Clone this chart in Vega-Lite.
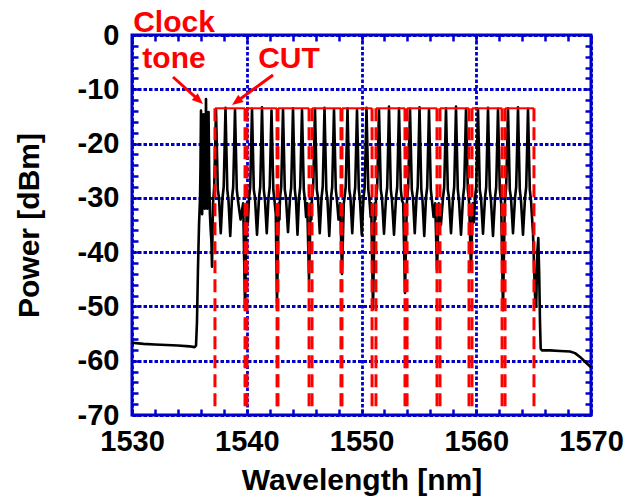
{
  "$schema": "https://vega.github.io/schema/vega-lite/v6.json",
  "width": 459,
  "height": 380,
  "autosize": {"type": "none"},
  "padding": {"left": 132, "top": 35, "right": 51, "bottom": 82},
  "background": "white",
  "config": {
    "view": {"stroke": "#0000cc", "strokeWidth": 3},
    "font": "Liberation Sans",
    "axis": {
      "labelFont": "Liberation Sans", "labelFontWeight": "bold", "labelFontSize": 29, "labelColor": "black",
      "titleFont": "Liberation Sans", "titleFontWeight": "bold", "titleFontSize": 30, "titleColor": "black",
      "tickColor": "#0000cc", "tickWidth": 2.5, "tickSize": -6,
      "domain": false,
      "gridColor": "#0000cc", "gridWidth": 2.8, "gridDash": [3.5, 2],
      "labelOverlap": false, "labelFlush": false
    }
  },
  "datasets": {
    "spec": [
      {"wl":1530.0,"p":-56.7},{"wl":1531.0,"p":-56.9},{"wl":1532.0,"p":-57.0},{"wl":1533.0,"p":-57.1},{"wl":1534.0,"p":-57.2},{"wl":1535.0,"p":-57.35},{"wl":1535.45,"p":-57.5},{"wl":1535.58,"p":-57.2},{"wl":1535.66,"p":-53},{"wl":1535.75,"p":-43},{"wl":1535.84,"p":-35},{"wl":1535.93,"p":-30},
      {"wl":1535.97,"p":-24},{"wl":1536.013,"p":-13.9},{"wl":1536.06,"p":-25},{"wl":1536.11,"p":-33},{"wl":1536.17,"p":-27},{"wl":1536.23,"p":-14.6},{"wl":1536.29,"p":-26},{"wl":1536.34,"p":-32},{"wl":1536.40,"p":-24},{"wl":1536.449,"p":-11.8},{"wl":1536.50,"p":-24},{"wl":1536.56,"p":-32},{"wl":1536.62,"p":-26},{"wl":1536.67,"p":-14.2},{"wl":1536.73,"p":-26},{"wl":1536.79,"p":-33},{"wl":1536.86,"p":-36},{"wl":1536.92,"p":-38},{"wl":1536.972,"p":-42.7},
      {"wl":1537.059,"p":-31},{"wl":1537.163,"p":-28},{"wl":1537.242,"p":-21},{"wl":1537.320,"p":-13.8},{"wl":1537.398,"p":-21},{"wl":1537.477,"p":-28.5},{"wl":1537.581,"p":-30},{"wl":1537.734,"p":-36.5},{"wl":1537.887,"p":-30},{"wl":1537.991,"p":-28},{"wl":1538.070,"p":-21},{"wl":1538.148,"p":-13.4},{"wl":1538.226,"p":-21},{"wl":1538.305,"p":-28.5},{"wl":1538.409,"p":-30.5},{"wl":1538.562,"p":-37},{"wl":1538.715,"p":-30},{"wl":1538.819,"p":-28},{"wl":1538.898,"p":-21},{"wl":1538.976,"p":-13.7},{"wl":1539.054,"p":-21},{"wl":1539.133,"p":-28.5},{"wl":1539.237,"p":-30.5},{"wl":1539.46,"p":-34},{"wl":1539.690,"p":-31},{"wl":1539.847,"p":-50},
      {"wl":1540.004,"p":-31},{"wl":1540.10,"p":-34.5},{"wl":1540.197,"p":-30},{"wl":1540.301,"p":-28},{"wl":1540.380,"p":-21},{"wl":1540.458,"p":-13.6},{"wl":1540.536,"p":-21},{"wl":1540.615,"p":-28.5},{"wl":1540.719,"p":-30},{"wl":1540.894,"p":-36.8},{"wl":1541.068,"p":-30},{"wl":1541.172,"p":-28},{"wl":1541.251,"p":-21},{"wl":1541.329,"p":-13.3},{"wl":1541.407,"p":-21},{"wl":1541.486,"p":-28.5},{"wl":1541.590,"p":-30.5},{"wl":1541.743,"p":-36.5},{"wl":1541.896,"p":-30},{"wl":1542.000,"p":-28},{"wl":1542.079,"p":-21},{"wl":1542.157,"p":-13.9},{"wl":1542.235,"p":-21},{"wl":1542.314,"p":-28.5},{"wl":1542.418,"p":-30.5},{"wl":1542.53,"p":-33},{"wl":1542.636,"p":-49.4},
      {"wl":1542.793,"p":-31},{"wl":1542.85,"p":-34},{"wl":1542.898,"p":-30},{"wl":1543.002,"p":-28},{"wl":1543.081,"p":-21},{"wl":1543.159,"p":-13.7},{"wl":1543.237,"p":-21},{"wl":1543.316,"p":-28.5},{"wl":1543.420,"p":-30},{"wl":1543.595,"p":-36.3},{"wl":1543.770,"p":-30},{"wl":1543.874,"p":-28},{"wl":1543.953,"p":-21},{"wl":1544.031,"p":-13.5},{"wl":1544.109,"p":-21},{"wl":1544.188,"p":-28.5},{"wl":1544.292,"p":-30.5},{"wl":1544.423,"p":-36.8},{"wl":1544.554,"p":-30},{"wl":1544.658,"p":-28},{"wl":1544.737,"p":-21},{"wl":1544.815,"p":-13.8},{"wl":1544.893,"p":-21},{"wl":1544.972,"p":-28.5},{"wl":1545.076,"p":-30.5},{"wl":1545.17,"p":-33.5},{"wl":1545.268,"p":-31},{"wl":1545.425,"p":-45},
      {"wl":1545.582,"p":-31},{"wl":1545.63,"p":-34},{"wl":1545.687,"p":-30},{"wl":1545.791,"p":-28},{"wl":1545.870,"p":-21},{"wl":1545.948,"p":-13.6},{"wl":1546.026,"p":-21},{"wl":1546.105,"p":-28.5},{"wl":1546.209,"p":-30},{"wl":1546.362,"p":-36.5},{"wl":1546.515,"p":-30},{"wl":1546.619,"p":-28},{"wl":1546.698,"p":-21},{"wl":1546.776,"p":-13.4},{"wl":1546.854,"p":-21},{"wl":1546.933,"p":-28.5},{"wl":1547.037,"p":-30.5},{"wl":1547.190,"p":-37},{"wl":1547.342,"p":-30},{"wl":1547.446,"p":-28},{"wl":1547.525,"p":-21},{"wl":1547.603,"p":-13.7},{"wl":1547.681,"p":-21},{"wl":1547.760,"p":-28.5},{"wl":1547.864,"p":-30.5},{"wl":1548.00,"p":-34},{"wl":1548.144,"p":-31},{"wl":1548.301,"p":-44},
      {"wl":1548.458,"p":-31},{"wl":1548.519,"p":-30},{"wl":1548.623,"p":-28},{"wl":1548.702,"p":-21},{"wl":1548.780,"p":-13.5},{"wl":1548.858,"p":-21},{"wl":1548.937,"p":-28.5},{"wl":1549.041,"p":-30},{"wl":1549.194,"p":-36.5},{"wl":1549.347,"p":-30},{"wl":1549.451,"p":-28},{"wl":1549.530,"p":-21},{"wl":1549.608,"p":-13.8},{"wl":1549.686,"p":-21},{"wl":1549.765,"p":-28.5},{"wl":1549.869,"p":-30.5},{"wl":1550.022,"p":-36.8},{"wl":1550.175,"p":-30},{"wl":1550.279,"p":-28},{"wl":1550.358,"p":-21},{"wl":1550.436,"p":-13.4},{"wl":1550.514,"p":-21},{"wl":1550.593,"p":-28.5},{"wl":1550.697,"p":-30.5},{"wl":1550.80,"p":-33.5},{"wl":1550.845,"p":-31},{"wl":1551.002,"p":-50.5},
      {"wl":1551.159,"p":-31},{"wl":1551.21,"p":-34},{"wl":1551.264,"p":-30},{"wl":1551.368,"p":-28},{"wl":1551.447,"p":-21},{"wl":1551.525,"p":-13.7},{"wl":1551.603,"p":-21},{"wl":1551.682,"p":-28.5},{"wl":1551.786,"p":-30},{"wl":1551.961,"p":-36.6},{"wl":1552.136,"p":-30},{"wl":1552.240,"p":-28},{"wl":1552.319,"p":-21},{"wl":1552.397,"p":-13.2},{"wl":1552.475,"p":-21},{"wl":1552.554,"p":-28.5},{"wl":1552.658,"p":-30.5},{"wl":1552.833,"p":-36.8},{"wl":1553.007,"p":-30},{"wl":1553.111,"p":-28},{"wl":1553.190,"p":-21},{"wl":1553.268,"p":-13.5},{"wl":1553.346,"p":-21},{"wl":1553.425,"p":-28.5},{"wl":1553.529,"p":-30.5},{"wl":1553.634,"p":-31},{"wl":1553.791,"p":-47.5},
      {"wl":1553.948,"p":-31},{"wl":1554.070,"p":-28},{"wl":1554.149,"p":-21},{"wl":1554.227,"p":-13.6},{"wl":1554.305,"p":-21},{"wl":1554.384,"p":-28.5},{"wl":1554.488,"p":-30},{"wl":1554.641,"p":-36.5},{"wl":1554.794,"p":-30},{"wl":1554.898,"p":-28},{"wl":1554.977,"p":-21},{"wl":1555.055,"p":-13.3},{"wl":1555.133,"p":-21},{"wl":1555.212,"p":-28.5},{"wl":1555.316,"p":-30.5},{"wl":1555.469,"p":-37},{"wl":1555.621,"p":-30},{"wl":1555.725,"p":-28},{"wl":1555.804,"p":-21},{"wl":1555.882,"p":-13.7},{"wl":1555.960,"p":-21},{"wl":1556.039,"p":-28.5},{"wl":1556.143,"p":-30.5},{"wl":1556.28,"p":-33.5},{"wl":1556.423,"p":-31},{"wl":1556.580,"p":-43.3},
      {"wl":1556.737,"p":-31},{"wl":1556.92,"p":-35},{"wl":1557.103,"p":-30},{"wl":1557.207,"p":-28},{"wl":1557.286,"p":-21},{"wl":1557.364,"p":-13.5},{"wl":1557.442,"p":-21},{"wl":1557.521,"p":-28.5},{"wl":1557.625,"p":-30},{"wl":1557.800,"p":-36.5},{"wl":1557.974,"p":-30},{"wl":1558.078,"p":-28},{"wl":1558.157,"p":-21},{"wl":1558.235,"p":-13.2},{"wl":1558.313,"p":-21},{"wl":1558.392,"p":-28.5},{"wl":1558.496,"p":-30.5},{"wl":1558.671,"p":-36.8},{"wl":1558.846,"p":-30},{"wl":1558.950,"p":-28},{"wl":1559.029,"p":-21},{"wl":1559.107,"p":-13.6},{"wl":1559.185,"p":-21},{"wl":1559.264,"p":-28.5},{"wl":1559.385,"p":-31},{"wl":1559.542,"p":-43.3},
      {"wl":1559.699,"p":-31},{"wl":1559.79,"p":-34.5},{"wl":1559.892,"p":-30},{"wl":1559.996,"p":-28},{"wl":1560.075,"p":-21},{"wl":1560.153,"p":-13.7},{"wl":1560.231,"p":-21},{"wl":1560.310,"p":-28.5},{"wl":1560.414,"p":-30},{"wl":1560.589,"p":-36.6},{"wl":1560.763,"p":-30},{"wl":1560.867,"p":-28},{"wl":1560.946,"p":-21},{"wl":1561.024,"p":-13.4},{"wl":1561.102,"p":-21},{"wl":1561.181,"p":-28.5},{"wl":1561.285,"p":-30.5},{"wl":1561.460,"p":-37},{"wl":1561.634,"p":-30},{"wl":1561.738,"p":-28},{"wl":1561.817,"p":-21},{"wl":1561.895,"p":-13.6},{"wl":1561.973,"p":-21},{"wl":1562.052,"p":-28.5},{"wl":1562.174,"p":-31},{"wl":1562.331,"p":-50.7},
      {"wl":1562.488,"p":-31},{"wl":1562.610,"p":-28},{"wl":1562.689,"p":-21},{"wl":1562.767,"p":-13.5},{"wl":1562.845,"p":-21},{"wl":1562.924,"p":-28.5},{"wl":1563.028,"p":-30},{"wl":1563.203,"p":-36.5},{"wl":1563.377,"p":-30},{"wl":1563.481,"p":-28},{"wl":1563.560,"p":-21},{"wl":1563.638,"p":-13.3},{"wl":1563.716,"p":-21},{"wl":1563.795,"p":-28.5},{"wl":1563.899,"p":-30.5},{"wl":1564.074,"p":-36.8},{"wl":1564.249,"p":-30},{"wl":1564.353,"p":-28},{"wl":1564.432,"p":-21},{"wl":1564.510,"p":-13.6},{"wl":1564.588,"p":-21},{"wl":1564.667,"p":-28.5},{"wl":1564.771,"p":-30.5},{"wl":1564.946,"p":-36.5},{"wl":1565.120,"p":-48},{"wl":1565.225,"p":-50},{"wl":1565.320,"p":-40},{"wl":1565.407,"p":-37.4},{"wl":1565.486,"p":-44},{"wl":1565.556,"p":-53},{"wl":1565.617,"p":-57.8},{"wl":1565.730,"p":-58.1},{"wl":1566.427,"p":-58.1},{"wl":1567.299,"p":-58.2},{"wl":1568.170,"p":-58.3},{"wl":1568.606,"p":-58.6},{"wl":1569.042,"p":-59.3},{"wl":1569.477,"p":-60.2},{"wl":1570.0,"p":-61.2}
    ],
    "boxes": [
      {"lo":1537.23,"hi":1539.85},{"lo":1540.02,"hi":1542.64},{"lo":1542.72,"hi":1545.43},{"lo":1545.69,"hi":1548.21},{"lo":1548.30,"hi":1550.92},
      {"lo":1551.26,"hi":1553.79},{"lo":1553.97,"hi":1556.58},{"lo":1556.84,"hi":1559.37},{"lo":1559.63,"hi":1562.25},{"lo":1562.51,"hi":1565.03}
    ],
    "arrows": [
      {"name":"clock","x":1533.573,"y":-7.737,"x2":1535.795,"y2":-11.97,"tx":1536.187,"ty":-12.71},
      {"name":"cut","x":1542.288,"y":-7.368,"x2":1539.133,"y2":-12.25,"tx":1538.715,"ty":-12.895}
    ],
    "labels": [
      {"text":"Clock","x":1533.66,"y":0.55},
      {"text":"tone","x":1533.66,"y":-6.08},
      {"text":"CUT","x":1543.68,"y":-6.08}
    ]
  },
  "resolve": {"axis": {"x": "independent", "y": "independent"}},
  "layer": [
    {
      "data": {"name": "spec"},
      "mark": {"type": "line", "color": "black", "strokeWidth": 2.6, "strokeJoin": "round"},
      "encoding": {
        "x": {"field": "wl", "type": "quantitative",
          "scale": {"domain": [1530, 1570], "nice": false, "zero": false},
          "axis": {"orient": "bottom", "title": "Wavelength [nm]",
            "values": [1530,1532,1534,1536,1538,1540,1542,1544,1546,1548,1550,1552,1554,1556,1558,1560,1562,1564,1566,1568,1570],
            "labelExpr": "datum.value % 10 === 0 ? '' + datum.value : ''",
            "gridOpacity": {"condition": {"test": "datum.value % 10 === 0", "value": 1}, "value": 0},
            "labelPadding": 18, "titleY": 74, "titleBaseline": "alphabetic"}},
        "y": {"field": "p", "type": "quantitative",
          "scale": {"domain": [-70, 0], "nice": false, "zero": false},
          "axis": {"orient": "left", "title": "Power [dBm]",
            "values": [-70,-68,-66,-64,-62,-60,-58,-56,-54,-52,-50,-48,-46,-44,-42,-40,-38,-36,-34,-32,-30,-28,-26,-24,-22,-20,-18,-16,-14,-12,-10,-8,-6,-4,-2,0],
            "labelExpr": "datum.value % 10 === 0 ? '' + datum.value : ''",
            "gridOpacity": {"condition": {"test": "datum.value % 10 === 0", "value": 1}, "value": 0},
            "labelPadding": 19, "titleX": -103, "titleY": 190, "titleAngle": -90, "titleBaseline": "middle", "titleAlign": "center"}}
      }
    },
    {
      "data": {"name": "boxes"},
      "mark": {"type": "rule", "color": "#ff0000", "strokeWidth": 2},
      "encoding": {
        "x": {"field": "lo", "type": "quantitative", "scale": {"domain": [1530, 1570], "nice": false, "zero": false}, "axis": null},
        "x2": {"field": "hi"},
        "y": {"datum": -13.5, "type": "quantitative", "scale": {"domain": [-70, 0], "nice": false, "zero": false}, "axis": null}
      }
    },
    {
      "data": {"name": "boxes"},
      "transform": [{"fold": ["lo", "hi"], "as": ["side", "edge"]}],
      "mark": {"type": "rule", "color": "#ff0000", "strokeWidth": 3, "strokeDash": [13, 6]},
      "encoding": {
        "x": {"field": "edge", "type": "quantitative", "scale": {"domain": [1530, 1570], "nice": false, "zero": false}, "axis": null},
        "y": {"datum": -13.5, "type": "quantitative", "scale": {"domain": [-70, 0], "nice": false, "zero": false}, "axis": null},
        "y2": {"datum": -69}
      }
    },
    {
      "data": {"name": "arrows"},
      "mark": {"type": "rule", "color": "#ff0000", "strokeWidth": 3},
      "encoding": {
        "x": {"field": "x", "type": "quantitative", "scale": {"domain": [1530, 1570], "nice": false, "zero": false},
          "axis": {"orient": "top", "title": null, "labels": false, "grid": false,
            "values": [1530,1532,1534,1536,1538,1540,1542,1544,1546,1548,1550,1552,1554,1556,1558,1560,1562,1564,1566,1568,1570]}},
        "x2": {"field": "x2"},
        "y": {"field": "y", "type": "quantitative", "scale": {"domain": [-70, 0], "nice": false, "zero": false},
          "axis": {"orient": "right", "title": null, "labels": false, "grid": false,
            "values": [-70,-68,-66,-64,-62,-60,-58,-56,-54,-52,-50,-48,-46,-44,-42,-40,-38,-36,-34,-32,-30,-28,-26,-24,-22,-20,-18,-16,-14,-12,-10,-8,-6,-4,-2,0]}},
        "y2": {"field": "y2"}
      }
    },
    {
      "data": {"name": "arrows"},
      "mark": {"type": "point", "shape": "M0,0L0.65,1.6L-0.65,1.6Z", "filled": true, "color": "#ff0000", "size": 190, "opacity": 1, "strokeWidth": 0},
      "encoding": {
        "x": {"field": "tx", "type": "quantitative", "scale": {"domain": [1530, 1570], "nice": false, "zero": false}, "axis": null},
        "y": {"field": "ty", "type": "quantitative", "scale": {"domain": [-70, 0], "nice": false, "zero": false}, "axis": null},
        "angle": {"condition": {"test": "datum.name === 'cut'", "value": 233.8}, "value": 132}
      }
    },
    {
      "data": {"name": "labels"},
      "mark": {"type": "text", "color": "#ff0000", "font": "Liberation Sans", "fontWeight": "bold", "fontSize": 30, "align": "center", "baseline": "alphabetic"},
      "encoding": {
        "x": {"field": "x", "type": "quantitative", "scale": {"domain": [1530, 1570], "nice": false, "zero": false}, "axis": null},
        "y": {"field": "y", "type": "quantitative", "scale": {"domain": [-70, 0], "nice": false, "zero": false}, "axis": null},
        "text": {"field": "text"}
      }
    }
  ]
}
